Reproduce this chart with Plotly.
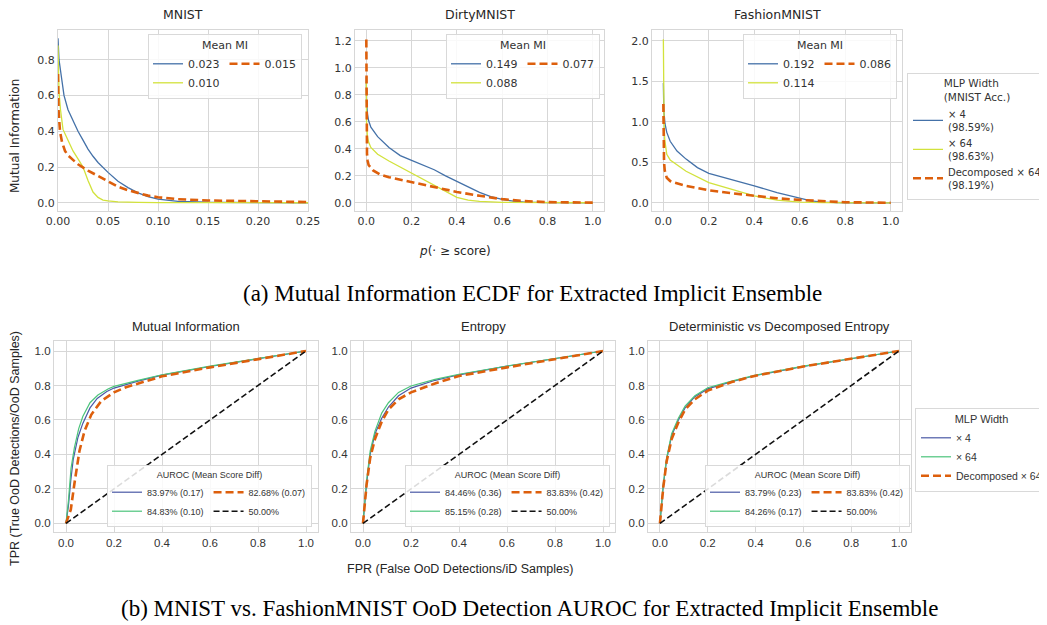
import plotly.graph_objects as go

W, H = 1047, 625

# ---------------- Data: (a) Mutual information ECDF ----------------
mnist_x4_p = [0, 0.001, 0.003, 0.006, 0.01, 0.015, 0.02, 0.025, 0.03, 0.035, 0.04, 0.05, 0.06, 0.07, 0.08, 0.09, 0.10, 0.12, 0.15, 0.20, 0.25]
mnist_x4_mi = [0.92, 0.80, 0.72, 0.60, 0.52, 0.46, 0.40, 0.35, 0.30, 0.26, 0.225, 0.17, 0.12, 0.085, 0.055, 0.035, 0.02, 0.008, 0.003, 0.001, 0.0]
mnist_x64_p = [0, 0.001, 0.0025, 0.005, 0.01, 0.015, 0.02, 0.025, 0.03, 0.035, 0.04, 0.045, 0.05, 0.06, 0.08, 0.10, 0.25]
mnist_x64_mi = [0.88, 0.62, 0.52, 0.41, 0.35, 0.29, 0.245, 0.20, 0.125, 0.06, 0.03, 0.015, 0.01, 0.005, 0.002, 0.001, 0.0]
mnist_dec_p = [0, 0.0005, 0.002, 0.004, 0.007, 0.01, 0.015, 0.02, 0.03, 0.04, 0.05, 0.06, 0.07, 0.08, 0.09, 0.10, 0.12, 0.15, 0.20, 0.25]
mnist_dec_mi = [0.72, 0.52, 0.40, 0.34, 0.29, 0.265, 0.24, 0.215, 0.18, 0.15, 0.12, 0.09, 0.07, 0.053, 0.04, 0.031, 0.02, 0.013, 0.008, 0.004]

dirty_x4_p = [0, 0.001, 0.005, 0.01, 0.02, 0.05, 0.1, 0.15, 0.2, 0.25, 0.3, 0.35, 0.4, 0.45, 0.5, 0.55, 0.6, 0.65, 0.7, 0.8, 1.0]
dirty_x4_mi = [0.93, 0.75, 0.66, 0.61, 0.56, 0.49, 0.41, 0.35, 0.315, 0.28, 0.245, 0.20, 0.16, 0.115, 0.077, 0.045, 0.025, 0.012, 0.005, 0.001, 0.0]
dirty_x64_p = [0, 0.001, 0.005, 0.01, 0.02, 0.05, 0.1, 0.15, 0.2, 0.25, 0.3, 0.35, 0.4, 0.45, 0.5, 0.6, 0.7, 1.0]
dirty_x64_mi = [0.90, 0.60, 0.49, 0.45, 0.41, 0.36, 0.31, 0.265, 0.215, 0.175, 0.13, 0.08, 0.04, 0.02, 0.01, 0.003, 0.001, 0.0]
dirty_dec_p = [0, 0.001, 0.003, 0.006, 0.01, 0.03, 0.06, 0.1, 0.2, 0.3, 0.4, 0.5, 0.6, 0.7, 0.8, 1.0]
dirty_dec_mi = [1.21, 0.55, 0.36, 0.31, 0.28, 0.24, 0.21, 0.19, 0.155, 0.115, 0.08, 0.052, 0.027, 0.012, 0.005, 0.001]

fash_x4_p = [0, 0.002, 0.007, 0.015, 0.03, 0.06, 0.1, 0.15, 0.2, 0.3, 0.4, 0.5, 0.6, 0.65, 0.7, 0.8, 1.0]
fash_x4_mi = [1.48, 1.15, 0.98, 0.87, 0.76, 0.64, 0.54, 0.435, 0.365, 0.29, 0.21, 0.127, 0.053, 0.025, 0.01, 0.002, 0.0]
fash_x64_p = [0, 0.001, 0.003, 0.006, 0.01, 0.015, 0.03, 0.06, 0.1, 0.2, 0.3, 0.4, 0.5, 0.6, 0.7, 1.0]
fash_x64_mi = [2.02, 1.40, 1.00, 0.78, 0.66, 0.60, 0.53, 0.47, 0.39, 0.25, 0.17, 0.086, 0.033, 0.01, 0.003, 0.0]
fash_dec_p = [0, 0.001, 0.003, 0.006, 0.01, 0.015, 0.03, 0.05, 0.1, 0.2, 0.3, 0.4, 0.5, 0.6, 0.7, 0.8, 1.0]
fash_dec_mi = [1.22, 0.80, 0.50, 0.40, 0.34, 0.31, 0.27, 0.25, 0.21, 0.156, 0.12, 0.086, 0.057, 0.037, 0.02, 0.008, 0.002]

top_titles = ["MNIST", "DirtyMNIST", "FashionMNIST"]
mnist_mean_mi = ["0.023", "0.010", "0.015"]
dirty_mean_mi = ["0.149", "0.088", "0.077"]
fash_mean_mi = ["0.192", "0.114", "0.086"]
top_series_names = ["× 4<br>(98.59%)", "× 64<br>(98.63%)", "Decomposed × 64<br>(98.19%)"]

# ---------------- Data: (b) ROC curves ----------------
mi_x4_fpr = [0, 0.01, 0.02, 0.03, 0.05, 0.07, 0.1, 0.13, 0.17, 0.2, 0.3, 0.4, 0.6, 0.8, 1.0]
mi_x4_tpr = [0, 0.10, 0.25, 0.37, 0.50, 0.58, 0.67, 0.725, 0.765, 0.785, 0.825, 0.86, 0.91, 0.955, 1.0]
mi_x64_fpr = [0, 0.01, 0.021, 0.035, 0.053, 0.07, 0.1, 0.133, 0.175, 0.2, 0.3, 0.4, 0.6, 0.8, 1.0]
mi_x64_tpr = [0, 0.13, 0.32, 0.44, 0.55, 0.62, 0.70, 0.745, 0.78, 0.795, 0.83, 0.862, 0.912, 0.956, 1.0]
mi_dec_fpr = [0, 0.02, 0.035, 0.056, 0.077, 0.105, 0.147, 0.2, 0.25, 0.3, 0.4, 0.6, 0.8, 1.0]
mi_dec_tpr = [0, 0.08, 0.23, 0.42, 0.535, 0.63, 0.71, 0.76, 0.79, 0.81, 0.853, 0.905, 0.952, 1.0]

ent_fpr = [0, 0.015, 0.03, 0.05, 0.078, 0.106, 0.148, 0.2, 0.3, 0.4, 0.6, 0.8, 1.0]
ent_x4_tpr = [0, 0.23, 0.40, 0.52, 0.61, 0.675, 0.74, 0.785, 0.83, 0.862, 0.912, 0.956, 1.0]
ent_x64_tpr = [0, 0.25, 0.42, 0.535, 0.64, 0.70, 0.76, 0.797, 0.835, 0.865, 0.913, 0.957, 1.0]
ent_dec_tpr = [0, 0.225, 0.38, 0.49, 0.59, 0.66, 0.72, 0.76, 0.812, 0.855, 0.905, 0.953, 1.0]

det_fpr = [0, 0.014, 0.028, 0.049, 0.077, 0.105, 0.146, 0.2, 0.3, 0.4, 0.6, 0.8, 1.0]
det_x4_tpr = [0, 0.22, 0.37, 0.51, 0.60, 0.67, 0.735, 0.78, 0.822, 0.858, 0.91, 0.955, 1.0]
det_x64_tpr = [0, 0.23, 0.38, 0.52, 0.61, 0.68, 0.74, 0.787, 0.825, 0.86, 0.912, 0.956, 1.0]
det_dec_tpr = [0, 0.21, 0.36, 0.49, 0.585, 0.66, 0.72, 0.77, 0.82, 0.857, 0.91, 0.955, 1.0]

chance_fpr = [0, 1]
chance_tpr = [0, 1]

bottom_titles = ["Mutual Information", "Entropy", "Deterministic vs Decomposed Entropy"]
mi_auroc = ["83.97% (0.17)", "84.83% (0.10)", "82.68% (0.07)", "50.00%"]
ent_auroc = ["84.46% (0.36)", "85.15% (0.28)", "83.83% (0.42)", "50.00%"]
det_auroc = ["83.79% (0.23)", "84.26% (0.17)", "83.83% (0.42)", "50.00%"]
bottom_series_names = ["× 4", "× 64", "Decomposed × 64"]

# ---------------- Styling ----------------
BLUE_T, YEL, ORG = "#4471a8", "#d2e23c", "#dd5f0c"
BLUE_B, GRN, BLK = "#4a59a6", "#4cc47b", "#111111"
GRID = "#d7d7d7"
TXT = "#333333"
SANS_T = "DejaVu Sans"
SANS_B = "Liberation Sans"
SHIFT = 6  # annotation render offset compensation


def fx(px):
    return px / W


def fy(py):
    return 1 - py / H


fig = go.Figure()

# ---- top row traces ----
top_data = [
    (mnist_x4_p, mnist_x4_mi, mnist_x64_p, mnist_x64_mi, mnist_dec_p, mnist_dec_mi, mnist_mean_mi, "x", "y", "legend"),
    (dirty_x4_p, dirty_x4_mi, dirty_x64_p, dirty_x64_mi, dirty_dec_p, dirty_dec_mi, dirty_mean_mi, "x2", "y2", "legend2"),
    (fash_x4_p, fash_x4_mi, fash_x64_p, fash_x64_mi, fash_dec_p, fash_dec_mi, fash_mean_mi, "x3", "y3", "legend3"),
]
for i, (p4, m4, p64, m64, pd_, md, labels, xa, ya, lg) in enumerate(top_data):
    fig.add_trace(go.Scatter(x=p4, y=m4, mode="lines", name=labels[0], xaxis=xa, yaxis=ya,
                             line=dict(color=BLUE_T, width=1.3), legend=lg, legendgroup=f"t{i}a"))
    fig.add_trace(go.Scatter(x=p64, y=m64, mode="lines", name=labels[1], xaxis=xa, yaxis=ya,
                             line=dict(color=YEL, width=1.3), legend=lg, legendgroup=f"t{i}a"))
    fig.add_trace(go.Scatter(x=pd_, y=md, mode="lines", name=labels[2], xaxis=xa, yaxis=ya,
                             line=dict(color=ORG, width=2.6, dash="8px,4px"), legend=lg, legendgroup=f"t{i}b"))

# top-right legend entries
for name, col, w, d in zip(top_series_names, [BLUE_T, YEL, ORG], [1.3, 1.3, 2.6], ["solid", "solid", "8px,4px"]):
    fig.add_trace(go.Scatter(x=[None], y=[None], mode="lines", name=name, xaxis="x3", yaxis="y3",
                             line=dict(color=col, width=w, dash=d), legend="legend4"))

# ---- bottom row traces ----
bottom_data = [
    (mi_x4_fpr, mi_x4_tpr, mi_x64_fpr, mi_x64_tpr, mi_dec_fpr, mi_dec_tpr, mi_auroc, "x4", "y4", "legend5"),
    (ent_fpr, ent_x4_tpr, ent_fpr, ent_x64_tpr, ent_fpr, ent_dec_tpr, ent_auroc, "x5", "y5", "legend6"),
    (det_fpr, det_x4_tpr, det_fpr, det_x64_tpr, det_fpr, det_dec_tpr, det_auroc, "x6", "y6", "legend7"),
]
for i, (f4, t4, f64, t64, fd, td, labels, xa, ya, lg) in enumerate(bottom_data):
    fig.add_trace(go.Scatter(x=f4, y=t4, mode="lines", name=labels[0], xaxis=xa, yaxis=ya,
                             line=dict(color=BLUE_B, width=1.2), legend=lg, legendgroup=f"b{i}a"))
    fig.add_trace(go.Scatter(x=f64, y=t64, mode="lines", name=labels[1], xaxis=xa, yaxis=ya,
                             line=dict(color=GRN, width=1.2), legend=lg, legendgroup=f"b{i}a"))
    fig.add_trace(go.Scatter(x=fd, y=td, mode="lines", name=labels[2], xaxis=xa, yaxis=ya,
                             line=dict(color=ORG, width=2.6, dash="8px,4px"), legend=lg, legendgroup=f"b{i}b"))
    fig.add_trace(go.Scatter(x=chance_fpr, y=chance_tpr, mode="lines", name=labels[3], xaxis=xa, yaxis=ya,
                             line=dict(color=BLK, width=1.6, dash="6px,3px"), legend=lg, legendgroup=f"b{i}b"))

for name, col, w, d in zip(bottom_series_names, [BLUE_B, GRN, ORG], [1.2, 1.2, 2.6], ["solid", "solid", "8px,4px"]):
    fig.add_trace(go.Scatter(x=[None], y=[None], mode="lines", name=name, xaxis="x6", yaxis="y6",
                             line=dict(color=col, width=w, dash=d), legend="legend8"))

# ---------------- Axes ----------------
def axis_common(font_family, size=11):
    return dict(showgrid=True, gridcolor=GRID, gridwidth=1, zeroline=False,
                showline=True, mirror=True, linecolor=GRID, linewidth=1.2,
                ticks="", tickfont=dict(family=font_family, size=size, color=TXT))

top_y0, top_y1 = fy(203), fy(22)
bot_y0, bot_y1 = fy(524), fy(333)

layout_axes = {}
top_x_domains = [(50, 300), (347, 596), (644, 894)]
top_x_ranges = [[0, 0.25], [-0.05, 1.05], [-0.05, 1.05]]
top_x_ticks = [[0, 0.05, 0.10, 0.15, 0.20, 0.25], [0, 0.2, 0.4, 0.6, 0.8, 1.0], [0, 0.2, 0.4, 0.6, 0.8, 1.0]]
top_x_fmt = [".2f", ".1f", ".1f"]
top_y_ranges = [[-0.046, 0.966], [-0.061, 1.281], [-0.10, 2.133]]
top_y_dticks = [0.2, 0.2, 0.5]
for i in range(3):
    sfx = "" if i == 0 else str(i + 1)
    layout_axes["xaxis" + sfx] = dict(domain=[fx(top_x_domains[i][0]), fx(top_x_domains[i][1])],
                                      range=top_x_ranges[i], tickvals=top_x_ticks[i], tickformat=top_x_fmt[i],
                                      anchor="y" + sfx, **axis_common(SANS_T, 11))
    layout_axes["yaxis" + sfx] = dict(domain=[top_y0, top_y1], range=top_y_ranges[i],
                                      tick0=0, dtick=top_y_dticks[i], tickformat=".1f",
                                      anchor="x" + sfx, **axis_common(SANS_T, 11))

bot_x_domains = [(46, 310), (343, 607), (640, 903)]
for i in range(3):
    sfx = str(i + 4)
    layout_axes["xaxis" + sfx] = dict(domain=[fx(bot_x_domains[i][0]), fx(bot_x_domains[i][1])],
                                      range=[-0.05, 1.05], tick0=0, dtick=0.2, tickformat=".1f",
                                      anchor="y" + sfx, **axis_common(SANS_B, 11.5))
    layout_axes["yaxis" + sfx] = dict(domain=[bot_y0, bot_y1], range=[-0.05, 1.058],
                                      tick0=0, dtick=0.2, tickformat=".1f",
                                      anchor="x" + sfx, **axis_common(SANS_B, 11.5))

# ---------------- Legends ----------------
def inner_legend(x_right_px, y_px, title, font_family, size, yanchor="top"):
    return dict(x=fx(x_right_px), y=fy(y_px), xanchor="right", yanchor=yanchor,
                orientation="h", traceorder="grouped", tracegroupgap=0,
                bgcolor="rgba(255,255,255,0.85)", bordercolor="#d9d9d9", borderwidth=1,
                itemwidth=30, itemclick=False, itemdoubleclick=False,
                font=dict(family=font_family, size=size, color=TXT),
                title=dict(text=title, side="top center", font=dict(family=font_family, size=size, color=TXT)))

legends = {
    "legend": inner_legend(294, 26, "Mean MI", SANS_T, 11),
    "legend2": inner_legend(592, 26, "Mean MI", SANS_T, 11),
    "legend3": inner_legend(889, 26, "Mean MI", SANS_T, 11),
    "legend5": inner_legend(304, 519, "AUROC (Mean Score Diff)", SANS_B, 9, "bottom"),
    "legend6": inner_legend(602, 519, "AUROC (Mean Score Diff)", SANS_B, 9, "bottom"),
    "legend7": inner_legend(902, 519, "AUROC (Mean Score Diff)", SANS_B, 9, "bottom"),
    "legend4": dict(x=fx(899), y=fy(128), xanchor="left", yanchor="middle", orientation="v",
                    bgcolor="white", bordercolor="#d9d9d9", borderwidth=1, itemwidth=30, tracegroupgap=0,
                    font=dict(family=SANS_T, size=10, color=TXT),
                    title=dict(text="MLP Width<br>(MNIST Acc.)", side="top center",
                               font=dict(family=SANS_T, size=10.5, color=TXT))),
    "legend8": dict(x=fx(907), y=fy(442), xanchor="left", yanchor="middle", orientation="v",
                    bgcolor="white", bordercolor="#d9d9d9", borderwidth=1, itemwidth=30, tracegroupgap=0,
                    font=dict(family=SANS_B, size=10.5, color=TXT),
                    title=dict(text="MLP Width", side="top center",
                               font=dict(family=SANS_B, size=11, color=TXT))),
}

# ---------------- Annotations (titles, axis labels, captions) ----------------
ann = []
top_title_x = [175, 472, 769]
for t, xp in zip(top_titles, top_title_x):
    ann.append(dict(text=t, x=fx(xp), y=fy(12 - SHIFT), xref="paper", yref="paper", showarrow=False,
                    xanchor="center", yanchor="middle", font=dict(family=SANS_T, size=12.5, color="#262626")))
bot_title_x = [178, 475, 771]
for t, xp in zip(bottom_titles, bot_title_x):
    ann.append(dict(text=t, x=fx(xp), y=fy(324 - SHIFT), xref="paper", yref="paper", showarrow=False,
                    xanchor="center", yanchor="middle", font=dict(family=SANS_B, size=13, color="#262626")))

ann.append(dict(text="Mutual Information", x=fx(13 - SHIFT), y=fy(128), xref="paper", yref="paper", showarrow=False,
                textangle=-90, xanchor="center", yanchor="middle", font=dict(family=SANS_T, size=12, color="#262626")))
ann.append(dict(text="<i>p</i>(· ≥ score)", x=fx(447), y=fy(249 - SHIFT), xref="paper", yref="paper", showarrow=False,
                xanchor="center", yanchor="middle", font=dict(family=SANS_T, size=12, color="#262626")))
ann.append(dict(text="TPR (True OoD Detections/OoD Samples)", x=fx(13 - SHIFT), y=fy(441), xref="paper", yref="paper",
                showarrow=False, textangle=-90, xanchor="center", yanchor="middle",
                font=dict(family=SANS_B, size=12.5, color="#262626")))
ann.append(dict(text="FPR (False OoD Detections/iD Samples)", x=fx(452), y=fy(567 - SHIFT), xref="paper", yref="paper",
                showarrow=False, xanchor="center", yanchor="middle", font=dict(family=SANS_B, size=12.5, color="#262626")))

ann.append(dict(text="(a) Mutual Information ECDF for Extracted Implicit Ensemble", x=fx(524), y=fy(285),
                xref="paper", yref="paper", showarrow=False, xanchor="center", yanchor="middle",
                font=dict(family="Liberation Serif", size=23, color="black")))
ann.append(dict(text="(b) MNIST vs. FashionMNIST OoD Detection AUROC for Extracted Implicit Ensemble", x=fx(521), y=fy(600),
                xref="paper", yref="paper", showarrow=False, xanchor="center", yanchor="middle",
                font=dict(family="Liberation Serif", size=23, color="black")))

fig.update_layout(
    width=W, height=H,
    margin=dict(l=0, r=0, t=0, b=0, autoexpand=False),
    paper_bgcolor="white", plot_bgcolor="white",
    font=dict(family=SANS_T, color=TXT),
    annotations=ann,
    **layout_axes,
    **legends,
)

fig.write_html("out.html")
